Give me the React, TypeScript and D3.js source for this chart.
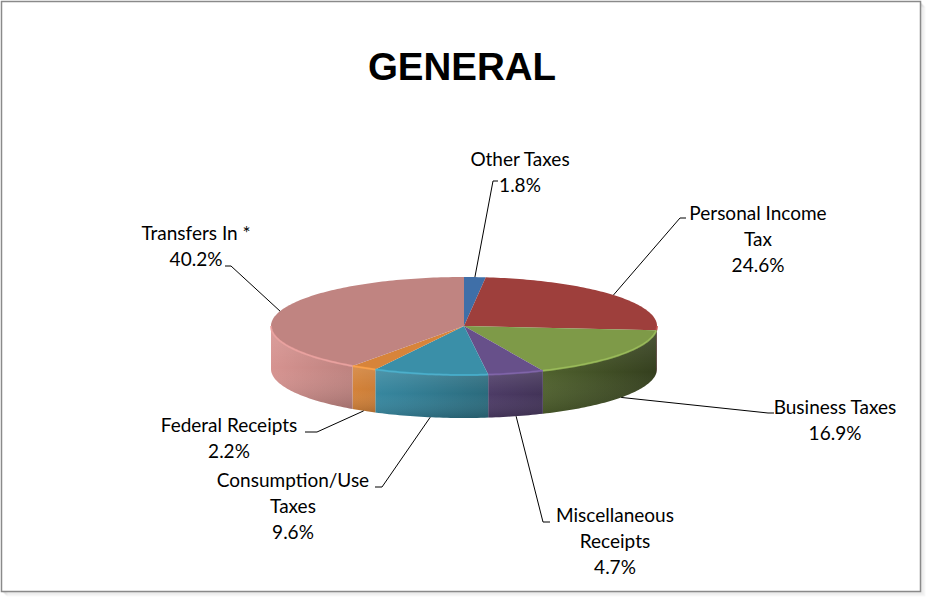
import React from "react";
import * as d3 from "d3";

// ---- data ----
const categories = [
  "Other Taxes",
  "Personal Income Tax",
  "Business Taxes",
  "Miscellaneous Receipts",
  "Consumption/Use Taxes",
  "Federal Receipts",
  "Transfers In *",
];
const values = [1.8, 24.6, 16.9, 4.7, 9.6, 2.2, 40.2];
const labelLines = [
  ["Other Taxes", "1.8%"],
  ["Personal Income", "Tax", "24.6%"],
  ["Business Taxes", "16.9%"],
  ["Miscellaneous", "Receipts", "4.7%"],
  ["Consumption/Use", "Taxes", "9.6%"],
  ["Federal Receipts", "2.2%"],
  ["Transfers In *", "40.2%"],
];
const title = "GENERAL";

// ---- styles / layout ----
const colors = ["#3F6FA8", "#9E3F3C", "#7E9A48", "#67508A", "#3A8FA8", "#D7843A", "#C08481"];
// label centre x, first baseline y, elbow point, tick end point
const labelLayout = [
  { x: 520, y: 166, elbow: [493, 181], end: [498, 181] },
  { x: 758, y: 220, elbow: [680, 218], end: [686, 218] },
  { x: 835, y: 414, elbow: [768, 413], end: [774, 413] },
  { x: 615, y: 522, elbow: [543, 522], end: [550, 522] },
  { x: 293, y: 487, elbow: [382, 487], end: [375, 487] },
  { x: 229, y: 432, elbow: [317, 432], end: [305, 432] },
  { x: 196, y: 240, elbow: [231, 266], end: [225, 266] },
];

const W = 926;
const H = 599;
const cx = 464;
const cy = 326;
const rx = 193;
const ry = 49;
const depth = 43;
const lineH = 26;

function pt(a: number, dy = 0): [number, number] {
  return [cx + rx * Math.sin(a), cy - ry * Math.cos(a) + dy];
}

function arcPts(a0: number, a1: number, dy = 0) {
  const n = Math.max(2, Math.ceil(Math.abs(a1 - a0) / 0.02));
  const out: [number, number][] = [];
  for (let i = 0; i <= n; i++) out.push(pt(a0 + ((a1 - a0) * i) / n, dy));
  return out;
}

export default function App() {
  const pie = d3.pie<number>().sort(null).startAngle(0).endAngle(2 * Math.PI)(values);
  const line = d3.line();

  const sides: { d: string; i: number; hl: string }[] = [];
  const tops: { d: string; i: number }[] = [];
  pie.forEach((p, i) => {
    const top = arcPts(p.startAngle, p.endAngle);
    tops.push({ d: (line([[cx, cy], ...top]) as string) + "Z", i });
    const s0 = Math.max(p.startAngle, Math.PI / 2);
    const s1 = Math.min(p.endAngle, (3 * Math.PI) / 2);
    if (s1 > s0) {
      const upper = arcPts(s0, s1);
      const lower = arcPts(s1, s0, depth);
      sides.push({ d: (line([...upper, ...lower]) as string) + "Z", i, hl: line(upper) as string });
    }
  });

  const anchors = pie.map((p) => {
    const m = (p.startAngle + p.endAngle) / 2;
    const front = Math.cos(m) < 0;
    return pt(m, front ? depth : 0);
  });

  const font = "Lato, 'Open Sans', sans-serif";

  return (
    <svg width={W} height={H} style={{ position: "absolute", left: 0, top: 0 }}>
      <defs>
        {colors.map((c, i) => {
          const base = d3.color(c)!;
          return (
            <linearGradient key={i} id={`side${i}`} gradientUnits="userSpaceOnUse" x1={cx - rx} x2={cx + rx} y1={0} y2={0}>
              <stop offset="0" stopColor={base.brighter(0.3).formatHex()} />
              <stop offset="0.35" stopColor={base.darker(0.3).formatHex()} />
              <stop offset="0.65" stopColor={base.darker(1.1).formatHex()} />
              <stop offset="1" stopColor={base.darker(2.5).formatHex()} />
            </linearGradient>
          );
        })}
        <linearGradient id="vshade" x1="0" x2="0" y1="0" y2="1">
          <stop offset="0" stopColor="#fff" stopOpacity="0.12" />
          <stop offset="0.5" stopColor="#fff" stopOpacity="0" />
          <stop offset="1" stopColor="#000" stopOpacity="0.15" />
        </linearGradient>
      </defs>
      <rect x={0} y={0} width={W} height={H} fill="#fff" />
      {/* shadow */}
      {[0, 1, 2, 3, 4].map((k) => (
        <rect key={k} x={3 + k} y={3 + k} width={918} height={589} fill="none" stroke="#000" strokeOpacity={0.1 - k * 0.018} strokeWidth={1} />
      ))}
      <rect x={1.5} y={1.5} width={919} height={590} fill="#fff" stroke="#8a8a8a" strokeWidth={1.5} />

      <text x={462} y={80} textAnchor="middle" fontFamily="'Liberation Sans', Arial, sans-serif" fontWeight="bold" fontSize={38.5} fill="#000">
        {title}
      </text>

      <g>
        {sides.map((s) => (
          <g key={`s${s.i}`}>
            <path d={s.d} fill={`url(#side${s.i})`} />
            <path d={s.d} fill="url(#vshade)" />
          </g>
        ))}
        {tops.map((t) => (
          <path key={`t${t.i}`} d={t.d} fill={colors[t.i]} />
        ))}
        {sides.map((s) => (
          <path key={`h${s.i}`} d={s.hl} fill="none" stroke={d3.color(colors[s.i])!.brighter(0.6).formatHex()} strokeWidth={2} strokeOpacity={0.8} />
        ))}
      </g>

      <g fill="none" stroke="#000" strokeWidth={1}>
        {labelLayout.map((l, i) => (
          <path key={i} d={line([anchors[i], l.elbow as [number, number], l.end as [number, number]]) as string} />
        ))}
      </g>

      <g fontFamily={font} fontSize={19} fill="#000" textAnchor="middle">
        {labelLines.map((ls, i) => (
          <text key={categories[i]} x={labelLayout[i].x} y={labelLayout[i].y}>
            {ls.map((t, j) => (
              <tspan key={j} x={labelLayout[i].x} dy={j === 0 ? 0 : lineH}>
                {t}
              </tspan>
            ))}
          </text>
        ))}
      </g>
    </svg>
  );
}
